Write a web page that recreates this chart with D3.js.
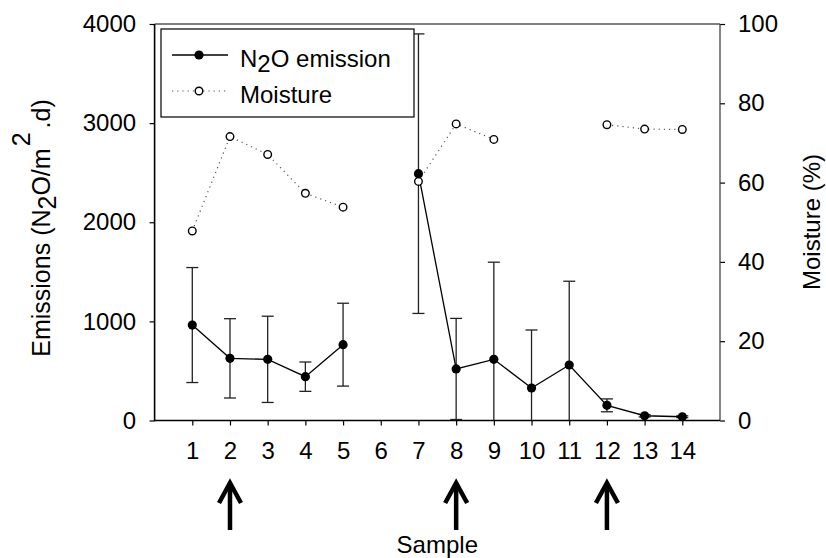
<!DOCTYPE html>
<html>
<head>
<meta charset="utf-8">
<script src="https://cdn.jsdelivr.net/npm/d3@7"></script>
<style>
  html, body { margin: 0; padding: 0; background: #fff; }
  svg { display: block; }
  text { font-family: "Liberation Sans", Arial, sans-serif; fill: #000; }
</style>
</head>
<body>
<svg id="chart" width="826" height="558"></svg>
<script>
// ---- data ----
const samples = [1, 2, 3, 4, 5, 6, 7, 8, 9, 10, 11, 12, 13, 14];
const emission = [963, 627, 617, 442, 765, null, 2490, 520, 617, 328, 560, 153, 48, 38];
const emissionErr = [580, 400, 435, 148, 418, null, 1410, 510, 980, 585, 845, 65, 12, 9];
const moisture = [47.8, 71.6, 67.1, 57.3, 53.8, null, 60.3, 74.8, 70.9, null, null, 74.6, 73.5, 73.4];
const arrowSamples = [2, 8, 12];
const leftTicks = [0, 1000, 2000, 3000, 4000];
const rightTicks = [0, 20, 40, 60, 80, 100];
const legendLabels = ["N2O emission", "Moisture"];

// ---- layout ----
const W = 826, H = 558;
const plot = { left: 154.6, right: 720, top: 24, bottom: 420.5 };
const FS = 24;

const svg = d3.select("#chart");

const x = d3.scaleLinear().domain([0, 15]).range([plot.left, plot.right]);
const yL = d3.scaleLinear().domain([0, 4000]).range([plot.bottom, plot.top]);
const yR = d3.scaleLinear().domain([0, 100]).range([plot.bottom, plot.top]);

const rows = samples.map((s, i) => ({ s, e: emission[i], err: emissionErr[i], m: moisture[i] }));

// ---- axes ----
const gL = svg.append("g").attr("transform", `translate(${plot.left},0)`)
  .call(d3.axisLeft(yL).tickValues(leftTicks).tickSize(5).tickPadding(13.5).tickFormat(d3.format("d")));
const gR = svg.append("g").attr("transform", `translate(${plot.right},0)`)
  .call(d3.axisRight(yR).tickValues(rightTicks).tickSize(5).tickPadding(13).tickFormat(d3.format("d")));
const gB = svg.append("g").attr("transform", `translate(0,${plot.bottom})`)
  .call(d3.axisBottom(x).tickValues(samples).tickSize(5).tickPadding(16).tickFormat(d3.format("d")));

[gL, gR, gB].forEach(g => {
  g.select(".domain").remove();
  g.selectAll(".tick line").attr("stroke", "#000").attr("stroke-width", 1.2);
  g.selectAll(".tick text").attr("font-size", FS).attr("font-family", '"Liberation Sans", Arial, sans-serif').attr("fill", "#000");
});

// frame
svg.append("line").attr("x1", plot.left).attr("x2", plot.right).attr("y1", plot.top).attr("y2", plot.top)
  .attr("stroke", "#000").attr("stroke-width", 1.2);
svg.append("line").attr("x1", plot.right).attr("x2", plot.right).attr("y1", plot.top).attr("y2", plot.bottom)
  .attr("stroke", "#333").attr("stroke-width", 1.2);
svg.append("line").attr("x1", plot.left).attr("x2", plot.left).attr("y1", plot.top).attr("y2", plot.bottom + 0.8)
  .attr("stroke", "#000").attr("stroke-width", 1.6);
svg.append("line").attr("x1", plot.left).attr("x2", plot.right).attr("y1", plot.bottom).attr("y2", plot.bottom)
  .attr("stroke", "#000").attr("stroke-width", 1.6);

// ---- error bars ----
const eb = svg.append("g").attr("stroke", "#222").attr("stroke-width", 1.3);
rows.filter(d => d.e != null).forEach(d => {
  const hi = d.e + d.err, lo = Math.max(0, d.e - d.err);
  const cx = x(d.s);
  eb.append("line").attr("x1", cx).attr("x2", cx).attr("y1", yL(hi)).attr("y2", yL(lo));
  eb.append("line").attr("x1", cx - 6).attr("x2", cx + 6).attr("y1", yL(hi)).attr("y2", yL(hi));
  if (lo > 0) eb.append("line").attr("x1", cx - 6).attr("x2", cx + 6).attr("y1", yL(lo)).attr("y2", yL(lo));
});

// ---- lines ----
const lineE = d3.line().defined(d => d.e != null).x(d => x(d.s)).y(d => yL(d.e));
const lineM = d3.line().defined(d => d.m != null).x(d => x(d.s)).y(d => yR(d.m));

svg.append("path").attr("d", lineM(rows)).attr("fill", "none")
  .attr("stroke", "#555").attr("stroke-width", 1.2).attr("stroke-dasharray", "1.2,4");
svg.append("path").attr("d", lineE(rows)).attr("fill", "none")
  .attr("stroke", "#000").attr("stroke-width", 1.3);

// ---- markers ----
svg.append("g").selectAll("circle").data(rows.filter(d => d.m != null)).join("circle")
  .attr("cx", d => x(d.s)).attr("cy", d => yR(d.m)).attr("r", 3.8)
  .attr("fill", "#fff").attr("stroke", "#000").attr("stroke-width", 1.4);
svg.append("g").selectAll("circle").data(rows.filter(d => d.e != null)).join("circle")
  .attr("cx", d => x(d.s)).attr("cy", d => yL(d.e)).attr("r", 4.6)
  .attr("fill", "#000");

// ---- legend ----
const lg = svg.append("g");
lg.append("rect").attr("x", 161).attr("y", 29).attr("width", 253).attr("height", 88)
  .attr("fill", "#fff").attr("stroke", "#000").attr("stroke-width", 1.2);
lg.append("line").attr("x1", 172).attr("x2", 228).attr("y1", 55).attr("y2", 55).attr("stroke", "#000").attr("stroke-width", 1.3);
lg.append("circle").attr("cx", 199).attr("cy", 55).attr("r", 4.6).attr("fill", "#000");
lg.append("line").attr("x1", 172).attr("x2", 228).attr("y1", 91).attr("y2", 91)
  .attr("stroke", "#555").attr("stroke-width", 1.2).attr("stroke-dasharray", "1.2,4");
lg.append("circle").attr("cx", 199).attr("cy", 91).attr("r", 3.8).attr("fill", "#fff").attr("stroke", "#000").attr("stroke-width", 1.4);

const t1 = lg.append("text").attr("x", 240).attr("y", 67).attr("font-size", FS);
t1.append("tspan").text("N");
t1.append("tspan").attr("dy", 5).text("2");
t1.append("tspan").attr("dy", -5).text("O emission");
lg.append("text").attr("x", 240).attr("y", 103).attr("font-size", FS).text(legendLabels[1]);

// ---- arrows ----
const ag = svg.append("g").attr("stroke", "#000").attr("stroke-width", 4.5).attr("fill", "none");
arrowSamples.forEach(s => {
  const ax = x(s);
  ag.append("line").attr("x1", ax).attr("x2", ax).attr("y1", 530).attr("y2", 484);
  ag.append("path").attr("d", `M${ax - 11},${503} L${ax},${483} L${ax + 11},${503}`)
    .attr("stroke-linejoin", "miter");
});

// ---- axis titles ----
svg.append("text").attr("x", (plot.left + plot.right) / 2).attr("y", 553)
  .attr("text-anchor", "middle").attr("font-size", FS).text("Sample");

const lt = svg.append("text").attr("transform", `translate(50,228) rotate(-90)`)
  .attr("text-anchor", "middle").attr("font-size", 25);
lt.append("tspan").text("Emissions (N");
lt.append("tspan").attr("dy", 6).text("2");
lt.append("tspan").attr("dy", -6).text("O/m");
lt.append("tspan").attr("dy", -20).attr("dx", 2).text("2");
lt.append("tspan").attr("dy", 20).attr("dx", 4).text(".d)");

svg.append("text").attr("transform", `translate(820,222) rotate(-90)`)
  .attr("text-anchor", "middle").attr("font-size", FS).text("Moisture (%)");
</script>
</body>
</html>
